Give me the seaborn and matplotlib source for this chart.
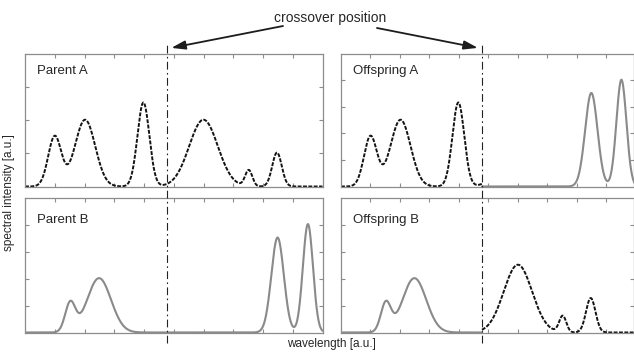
import numpy as np
import pandas as pd
import matplotlib
matplotlib.use("Agg")
import matplotlib.pyplot as plt
from matplotlib.lines import Line2D
from matplotlib.transforms import blended_transform_factory
import seaborn as sns

# ---------------- data ----------------
# peak tables of the two parent spectra (wavelength [a.u.], intensity [a.u.], width)
parentA_center = [1.00, 2.02, 3.98, 6.00, 7.52, 8.47]
parentA_height = [1.89, 2.52, 3.17, 2.52, 0.61, 1.28]
parentA_width = [0.22, 0.34, 0.20, 0.48, 0.12, 0.16]

parentB_center = [1.52, 2.49, 8.49, 9.51]
parentB_height = [1.07, 2.02, 3.53, 4.03]
parentB_width = [0.17, 0.40, 0.21, 0.17]

crossover = 4.78

panel_titles = ["Parent A", "Offspring A", "Parent B", "Offspring B"]
x_ticks = [1, 2, 3, 4, 5, 6, 7, 8, 9]
y_ticks_top_left = [1.25, 2.5, 3.75]
y_ticks_other = [1, 2, 3, 4]

# ---------------- build spectra ----------------
wl = np.linspace(0, 10, 1001)


def spectrum(centers, heights, widths):
    y = np.zeros_like(wl)
    for c, h, w in zip(centers, heights, widths):
        y += h * np.exp(-((wl - c) ** 2) / (2 * w ** 2))
    return y


specA = spectrum(parentA_center, parentA_height, parentA_width)
specB = spectrum(parentB_center, parentB_height, parentB_width)

left = wl <= crossover
right = wl >= crossover

DASH = dict(color="#141414", lw=1.4, linestyle=(0, (2.0, 0.75)))
SOLID = dict(color="#8a8a8a", lw=1.5, linestyle="-")

segments = {
    "Parent A": [(pd.DataFrame({"wl": wl, "I": specA}), DASH)],
    "Parent B": [(pd.DataFrame({"wl": wl, "I": specB}), SOLID)],
    "Offspring A": [
        (pd.DataFrame({"wl": wl[left], "I": specA[left]}), DASH),
        (pd.DataFrame({"wl": wl[right], "I": specB[right]}), SOLID),
    ],
    "Offspring B": [
        (pd.DataFrame({"wl": wl[left], "I": specB[left]}), SOLID),
        (pd.DataFrame({"wl": wl[right], "I": specA[right]}), DASH),
    ],
}

# ---------------- figure ----------------
sns.set_theme(style="white")
plt.rcParams["font.family"] = ["Liberation Sans", "DejaVu Sans"]

W, H = 634, 356
fig = plt.figure(figsize=(W / 100, H / 100), dpi=100)


def px_axes(x0, x1, y0, y1):
    return fig.add_axes([x0 / W, 1 - y1 / H, (x1 - x0) / W, (y1 - y0) / H])


axes = {
    "Parent A": px_axes(25, 322.5, 54, 187),
    "Offspring A": px_axes(341, 633.5, 54, 187),
    "Parent B": px_axes(25, 322.5, 198, 333),
    "Offspring B": px_axes(341, 633.5, 198, 333),
}

spine_col = "#8c8c8c"
for name in panel_titles:
    ax = axes[name]
    for df, st in segments[name]:
        sns.lineplot(data=df, x="wl", y="I", ax=ax, estimator=None, sort=False,
                     color=st["color"], lw=st["lw"], linestyle=st["linestyle"])
    if name in ("Parent A", "Parent B"):
        ax.set_xlim(0, 10)
    else:
        ax.set_xlim(0, 9.92)
    ax.set_ylim(-0.02, 5)
    ax.set_xticks(x_ticks)
    ax.set_yticks(y_ticks_top_left if name == "Parent A" else y_ticks_other)
    ax.set_xticklabels([])
    ax.set_yticklabels([])
    ax.set_xlabel("")
    ax.set_ylabel("")
    ax.tick_params(direction="in", length=3, width=0.8, color=spine_col,
                   top=True, bottom=True, left=True, right=True)
    for sp in ax.spines.values():
        sp.set_color(spine_col)
        sp.set_linewidth(0.9)
    ax.text(0.04, 0.87 if name in ("Parent A", "Offspring A") else 0.84, name,
            transform=ax.transAxes, ha="left", va="center", fontsize=9.5,
            color="#262626")

# crossover lines spanning both rows
for name in ("Parent A", "Offspring A"):
    ax = axes[name]
    tr = blended_transform_factory(ax.transData, fig.transFigure)
    fig.add_artist(Line2D([crossover, crossover], [1 - 343 / H, 1 - 42 / H],
                          transform=tr, color="#222222", lw=0.8,
                          linestyle=(0, (7, 3, 1.5, 3))))

# title text and arrows
fig.text(330 / W, 1 - 18 / H, "crossover position", ha="center", va="center",
         fontsize=10, color="#262626")
for name, tail in (("Parent A", (283 / W, 1 - 26 / H)),
                   ("Offspring A", (377 / W, 1 - 28 / H))):
    ax = axes[name]
    ax.annotate("", xy=(crossover, 1.04), xycoords=("data", "axes fraction"),
                xytext=tail, textcoords="figure fraction",
                arrowprops=dict(arrowstyle="-|>,head_length=0.7,head_width=0.22",
                                mutation_scale=12, color="#1c1c1c", lw=1.3,
                                shrinkA=0, shrinkB=3),
                annotation_clip=False)

fig.text(331 / W, 1 - 344 / H, "wavelength [a.u.]", ha="center", va="center",
         fontsize=8.5, color="#262626")
fig.text(9 / W, 1 - 193 / H, "spectral intensity [a.u.]", ha="center",
         va="center", rotation=90, fontsize=8.5, color="#262626")

fig.savefig("out.png", dpi=100)
